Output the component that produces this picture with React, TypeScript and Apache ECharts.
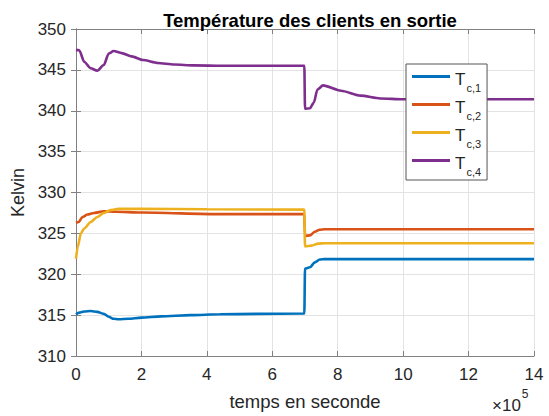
import React, { useEffect, useRef } from "react";
import * as echarts from "echarts";

// time in units of 1e5 s
const xTicks = [0, 2, 4, 6, 8, 10, 12, 14];
const yTicks = [310, 315, 320, 325, 330, 335, 340, 345, 350];

const seriesNames = ["Tc,1", "Tc,2", "Tc,3", "Tc,4"];
const seriesColors = ["#0072BD", "#D95319", "#EDB120", "#7E2F8E"];

const t1 = [0, 0.1, 0.25, 0.45, 0.65, 0.85, 1.0, 1.15, 1.3, 1.6, 2.0, 2.6, 3.5, 4.4, 5.5, 6.98, 7.0, 7.15, 7.3, 7.45, 7.6, 9, 14];
const v1 = [315.1, 315.3, 315.45, 315.5, 315.4, 315.15, 314.8, 314.55, 314.5, 314.55, 314.7, 314.85, 315.0, 315.1, 315.15, 315.2, 320.7, 320.85, 321.45, 321.8, 321.85, 321.85, 321.85];

const t2 = [0, 0.08, 0.2, 0.35, 0.55, 0.85, 1.2, 2, 4.4, 6.98, 7.0, 7.15, 7.3, 7.45, 7.6, 14];
const v2 = [326.3, 326.4, 327.0, 327.3, 327.5, 327.7, 327.65, 327.55, 327.35, 327.35, 324.7, 324.75, 325.2, 325.45, 325.5, 325.5];

const t3 = [0, 0.05, 0.15, 0.25, 0.45, 0.65, 0.85, 1.05, 1.3, 2, 4, 6.98, 7.0, 7.2, 7.4, 7.6, 14];
const v3 = [321.9, 323.3, 325.0, 325.6, 326.4, 327.0, 327.5, 327.85, 328.0, 328.0, 327.95, 327.9, 323.4, 323.5, 323.75, 323.8, 323.8];

const t4 = [0, 0.1, 0.25, 0.45, 0.65, 0.85, 1.0, 1.15, 1.4, 1.7, 2.05, 2.5, 3.0, 3.6, 4.5, 6.98, 7.0, 7.15, 7.27, 7.38, 7.55, 8.1, 8.7, 9.3, 10, 14];
const v4 = [347.45, 347.4, 346.0, 345.2, 344.9, 345.6, 347.0, 347.3, 347.05, 346.65, 346.2, 345.85, 345.65, 345.55, 345.5, 345.5, 340.25, 340.3, 341.0, 342.6, 343.1, 342.45, 341.85, 341.5, 341.4, 341.4];

const times = [t1, t2, t3, t4];
const values = [v1, v2, v3, v4];

const FONT = "'Liberation Sans', Arial, Helvetica, sans-serif";
const TEXT = "#262626";
const AXIS = "#808080";
const GRIDC = "#e3e3e3";

export default function App() {
  const ref = useRef<HTMLDivElement>(null);
  useEffect(() => {
    if (!ref.current) return;
    const chart = echarts.init(ref.current, null, { renderer: "svg" });
    const series = seriesNames.map((name, i) => ({
      name,
      type: "line",
      data: times[i].map((t, j) => [t, values[i][j]]),
      showSymbol: false,
      symbol: "none",
      smooth: 0.25,
      smoothMonotone: "x",
      lineStyle: { width: 2.6, color: seriesColors[i] },
      itemStyle: { color: seriesColors[i] },
    }));
    const commonX = {
      type: "value",
      min: xTicks[0],
      max: xTicks[xTicks.length - 1],
      interval: 2,
    };
    const commonY = {
      type: "value",
      min: yTicks[0],
      max: yTicks[yTicks.length - 1],
      interval: 5,
    };
    chart.setOption({
      animation: false,
      textStyle: { fontFamily: FONT },
      title: {
        text: "Température des clients en sortie",
        left: 305,
        top: 6,
        textAlign: "center",
        textStyle: { fontFamily: FONT, fontSize: 18.5, fontWeight: "bold", color: "#000" },
      },
      grid: { left: 76, right: 15, top: 29, bottom: 60, containLabel: false },
      legend: {
        orient: "vertical",
        left: 406,
        top: 64,
        data: seriesNames,
        icon: "rect",
        itemWidth: 38,
        itemHeight: 3,
        itemGap: 3,
        itemTextGap: 3,
        padding: [4, 6, 3, 6],
        backgroundColor: "#ffffff",
        borderColor: "#555555",
        borderWidth: 1,
        formatter: (name: string) => `{t|T}{s|${name.slice(1)}}`,
        textStyle: {
          color: TEXT,
          fontFamily: FONT,
          rich: {
            t: { fontSize: 17, lineHeight: 17, padding: [3, 0, 0, 0], verticalAlign: "top", fontFamily: FONT, color: TEXT },
            s: { fontSize: 11, lineHeight: 11, padding: [14, 0, 0, 1], verticalAlign: "top", fontFamily: FONT, color: TEXT },
          },
        },
      },
      xAxis: [
        {
          ...commonX,
          position: "bottom",
          name: "temps en seconde",
          nameLocation: "middle",
          nameGap: 36,
          nameTextStyle: { fontFamily: FONT, fontSize: 18.5, color: TEXT },
          axisLine: { show: true, lineStyle: { color: AXIS, width: 1 } },
          axisTick: { show: true, inside: true, length: 5, lineStyle: { color: AXIS } },
          axisLabel: { fontFamily: FONT, fontSize: 17, color: TEXT, margin: 10 },
          splitLine: { show: true, lineStyle: { color: GRIDC, width: 1 } },
        },
        {
          ...commonX,
          position: "top",
          axisLine: { show: true, lineStyle: { color: AXIS, width: 1 } },
          axisTick: { show: true, inside: true, length: 5, lineStyle: { color: AXIS } },
          axisLabel: { show: false },
          splitLine: { show: false },
        },
      ],
      yAxis: [
        {
          ...commonY,
          position: "left",
          name: "Kelvin",
          nameLocation: "middle",
          nameGap: 47,
          nameRotate: 90,
          nameTextStyle: { fontFamily: FONT, fontSize: 18, color: TEXT },
          axisLine: { show: true, lineStyle: { color: AXIS, width: 1 } },
          axisTick: { show: true, inside: true, length: 5, lineStyle: { color: AXIS } },
          axisLabel: { fontFamily: FONT, fontSize: 17, color: TEXT, margin: 10 },
          splitLine: { show: true, lineStyle: { color: GRIDC, width: 1 } },
        },
        {
          ...commonY,
          position: "right",
          axisLine: { show: true, lineStyle: { color: AXIS, width: 1 } },
          axisTick: { show: true, inside: true, length: 5, lineStyle: { color: AXIS } },
          axisLabel: { show: false },
          splitLine: { show: false },
        },
      ],
      graphic: [
        {
          type: "text",
          left: 492,
          top: 388,
          style: {
            text: "{a|×10}{b|5}",
            rich: {
              a: { fontSize: 17, lineHeight: 17, padding: [9, 0, 0, 0], verticalAlign: "top", fontFamily: FONT, fill: TEXT, color: TEXT },
              b: { fontSize: 12, lineHeight: 12, padding: [0, 0, 0, 1], verticalAlign: "top", fontFamily: FONT, fill: TEXT, color: TEXT },
            },
          },
        },
      ],
      series,
    });
    return () => chart.dispose();
  }, []);
  return (
    <div
      ref={ref}
      style={{ position: "fixed", left: 0, top: 0, width: 549, height: 416, background: "#fff" }}
    />
  );
}
